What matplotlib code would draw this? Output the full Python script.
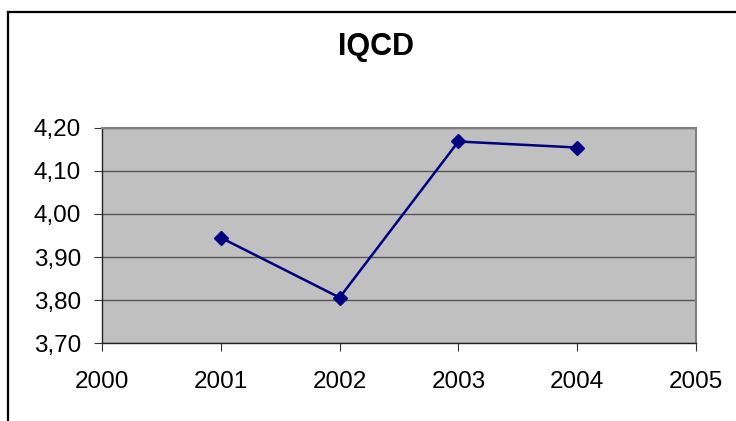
import matplotlib
matplotlib.use("Agg")
import matplotlib.pyplot as plt
from matplotlib.lines import Line2D

# IQCD yearly scores
years = [2001, 2002, 2003, 2004]
iqcd = [3.945, 3.806, 4.168, 4.154]
x_ticks = [2000, 2001, 2002, 2003, 2004, 2005]
y_ticks = [3.70, 3.80, 3.90, 4.00, 4.10, 4.20]

plt.rcParams["font.family"] = ["Liberation Sans", "DejaVu Sans"]

fig = plt.figure(figsize=(7.36, 4.21), dpi=100)
W, H = 736, 421
ax = fig.add_axes([102 / W, 1 - 343.3 / H, 594 / W, 215.6 / H])
ax.set_facecolor("#c0c0c0")

ax.plot(years, iqcd, color="#000080", lw=1.8, marker="D", ms=7.5,
        mfc="#000080", mec="#000080", zorder=3)

ax.set_xlim(2000, 2005)
ax.set_ylim(3.70, 4.20)
ax.set_xticks(x_ticks)
ax.set_xticklabels([str(v) for v in x_ticks])
ax.set_yticks(y_ticks)
ax.set_yticklabels([f"{v:.2f}".replace(".", ",") for v in y_ticks])
ax.yaxis.grid(True, color="#555555", lw=1.0)
ax.set_axisbelow(True)

ax.tick_params(axis="both", direction="out", length=6, width=0.8,
               color="#333333", labelsize=17.5)
ax.tick_params(axis="y", pad=9)
ax.tick_params(axis="x", pad=14)

for side in ("top", "right"):
    ax.spines[side].set_color("#808080")
    ax.spines[side].set_linewidth(1.5)
for side in ("left", "bottom"):
    ax.spines[side].set_color("#222222")
    ax.spines[side].set_linewidth(1.0)

fig.text(375.8 / W, 1 - 47 / H, "IQCD", ha="center", va="center",
         fontsize=22, fontweight="bold")

# chart frame (left and top edges)
fig.add_artist(Line2D([8 / W, 8 / W], [0, 1 - 11.5 / H], transform=fig.transFigure,
                      color="black", lw=1.6))
fig.add_artist(Line2D([8 / W, 1], [1 - 11.5 / H, 1 - 11.5 / H], transform=fig.transFigure,
                      color="black", lw=1.6))

fig.savefig("out.png", dpi=100)
